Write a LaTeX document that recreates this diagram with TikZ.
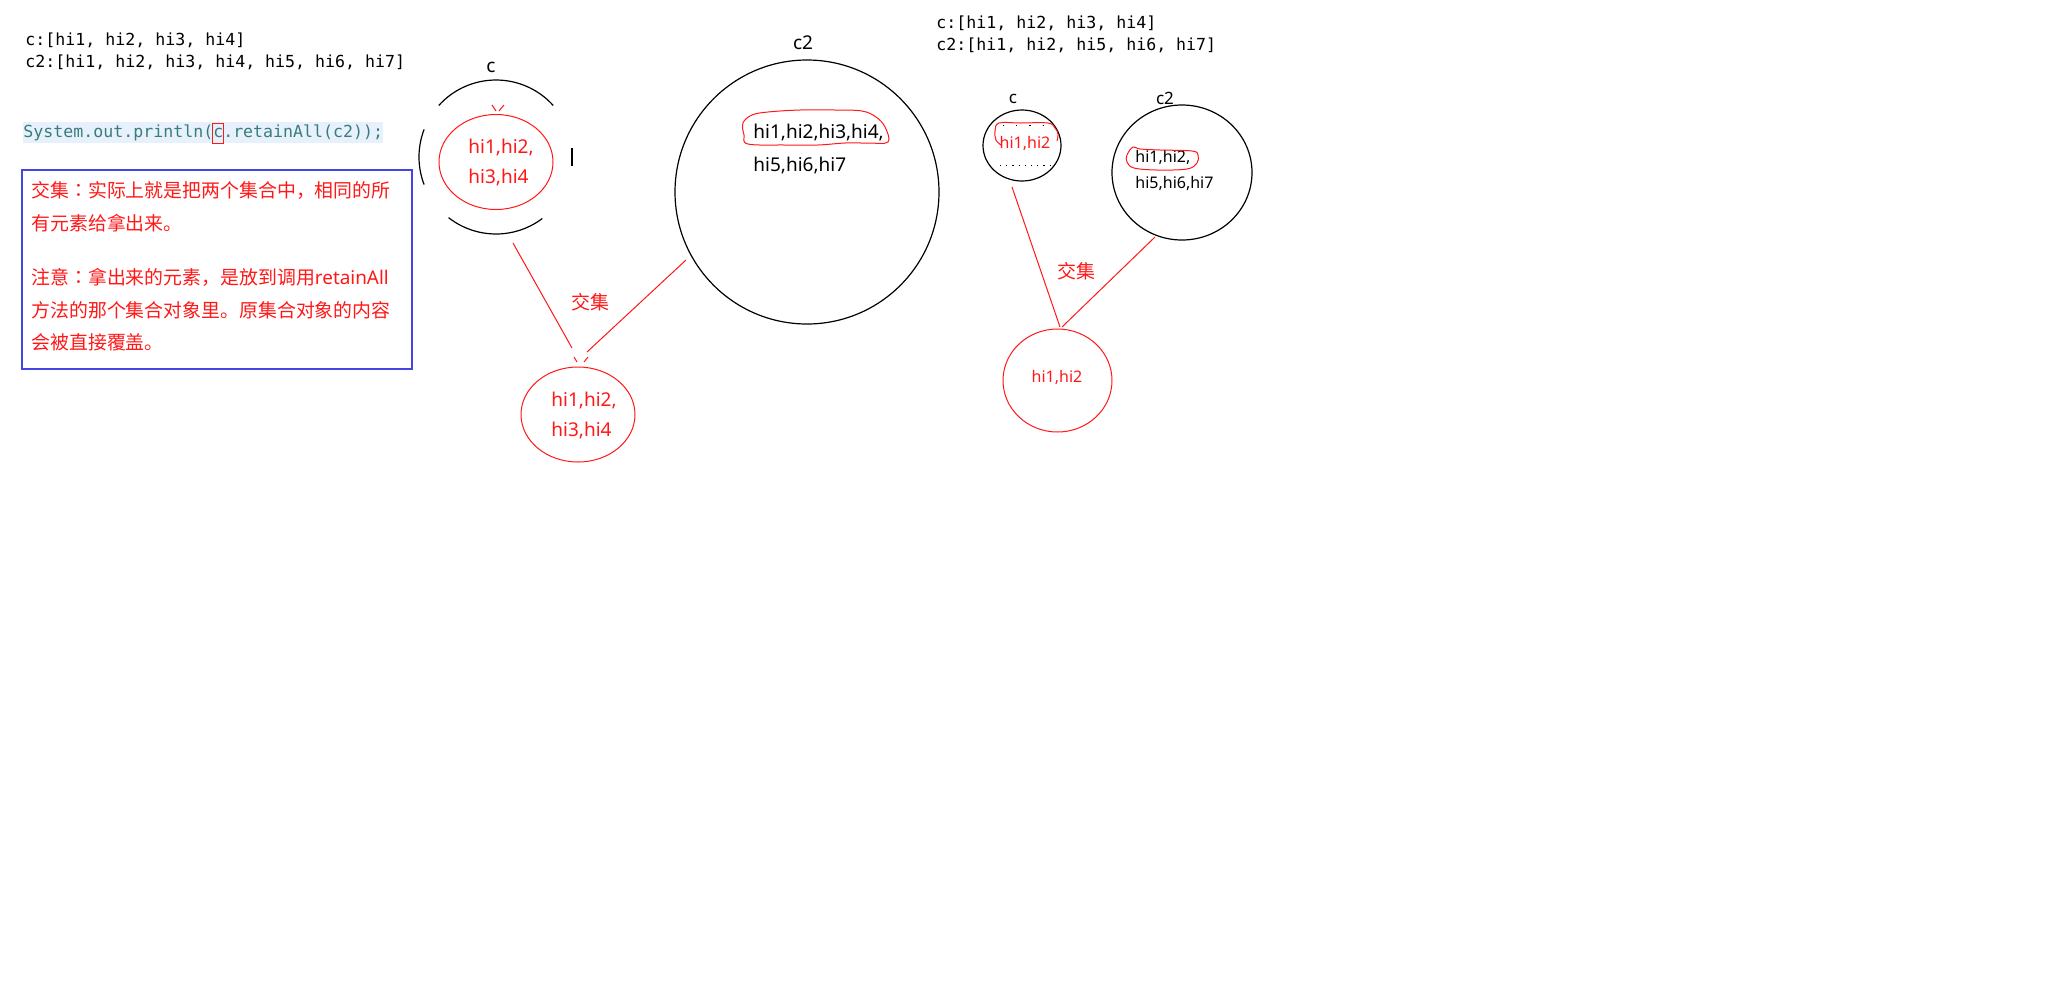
\documentclass[tikz,border=0pt]{standalone}
\usepackage{fontspec}
\setmainfont{Noto Sans}
\setmonofont{DejaVu Sans Mono}
\newfontfamily\cjk{Noto Sans CJK SC}
\newfontfamily\cjkjp{Noto Sans CJK JP}
\usetikzlibrary{shapes.geometric}
\definecolor{codeteal}{RGB}{58,124,124}
\definecolor{hlblue}{RGB}{230,241,252}
\definecolor{boxblue}{RGB}{70,70,222}
\definecolor{sred}{RGB}{255,24,24}
\newcommand{\zcolon}{{\cjkjp ：}}
\begin{document}
\begin{tikzpicture}[x=0.5pt,y=-0.5pt,
  mono/.style={anchor=west,inner sep=0,font=\ttfamily\fontsize{8.3}{10}\selectfont},
  note/.style={anchor=west,inner sep=0,text=sred,font=\cjk\fontsize{9.45}{11}\selectfont},
  lbl/.style={inner sep=0,font=\fontsize{9.5}{11}\selectfont},
  slbl/.style={inner sep=0,font=\fontsize{8}{10}\selectfont},
  blk/.style={draw=black,line width=0.6pt},
  redl/.style={draw=sred,line width=0.5pt},
  setel/.style={ellipse,inner sep=0,line width=0.5pt},
  jiao/.style={inner sep=0,text=sred,font=\cjk\fontsize{9.5}{11}\selectfont}]
\fill[white] (0,0) rectangle (2052,992);
\useasboundingbox (0,0) rectangle (2052,992);

% ---------- left text ----------
\node[mono] (t1) at (25,40) {c:[hi1, hi2, hi3, hi4]};
\node[mono] (t2) at (25,62) {c2:[hi1, hi2, hi3, hi4, hi5, hi6, hi7]};
\fill[hlblue] (23,122) rectangle (383,143);
\node[mono,text=codeteal] (code) at (23,133) {System.out.println(c.retainAll(c2));};
\draw[sred,line width=0.5pt] (212,123) rectangle (223,143);

\node[draw=boxblue,line width=0.65pt,minimum width=195pt,minimum height=99.5pt,inner sep=0] (box) at (217,269.5) {};
\node[note] (n1) at (31,190) {交集\zcolon 实际上就是把两个集合中，相同的所};
\node[note] (n2) at (31,223) {有元素给拿出来。};
\node[note] (n3) at (31,277) {注意\zcolon 拿出来的元素，是放到调用{\rmfamily retainAll}};
\node[note] (n4) at (31,310) {方法的那个集合对象里。原集合对象的内容};
\node[note] (n5) at (31,342) {会被直接覆盖。};

% ---------- first example: c ----------
\node[lbl,font=\bfseries\fontsize{9.5}{11}\selectfont] (clab) at (491,67) {c};
\draw[blk] plot[domain=42:138,samples=40] ({496+77*cos(\x)},{157-77*sin(\x)});
\draw[blk] plot[domain=159:201,samples=20] ({496+77*cos(\x)},{157-77*sin(\x)});
\draw[blk] plot[domain=232:307,samples=30] ({496+77*cos(\x)},{157-77*sin(\x)});
\draw[blk] (572,148) -- (572,166);
\node[setel,draw=sred,minimum width=57pt,minimum height=47.5pt] (cel) at (496,162) {};
\node[lbl,text=sred,anchor=west] (ct1) at (468,147) {hi1,hi2,};
\node[lbl,text=sred,anchor=west] (ct2) at (468,177) {hi3,hi4};
\draw[redl] (492,105) -- (496,111) (499,111) -- (504,105);

% c2 big
\node[lbl] (c2lab) at (803,43) {c2};
\node[circle,blk,minimum size=132pt,inner sep=0] (c2big) at (807,192) {};
\node[lbl,anchor=west] (c2t1) at (753,132) {hi1,hi2,hi3,hi4,};
\node[lbl,anchor=west] (c2t2) at (753,165) {hi5,hi6,hi7};
\draw[redl] plot[smooth cycle,tension=0.6] coordinates {(743,123) (752,115) (768,112) (800,110) (835,110) (862,111) (876,117) (885,127) (888,142) (868,143) (845,143) (818,145) (785,145) (748,144) (744,135)};

% result 1
\node[setel,draw=sred,minimum width=57pt,minimum height=47.5pt] (res1) at (578,414.5) {};
\node[lbl,text=sred,anchor=west] (r1t1) at (551,400) {hi1,hi2,};
\node[lbl,text=sred,anchor=west] (r1t2) at (551,430) {hi3,hi4};
\coordinate (a1) at (513,243);
\coordinate (a2) at (572,348);
\coordinate (b1) at (686,260);
\coordinate (b2) at (587,352);
\draw[redl] (a1) -- (a2);
\draw[redl] (b1) -- (b2);
\draw[redl] (574,357) -- (577,362) (588,357) -- (584,362);
\node[jiao] (j1) at (590,302) {交集};

% ---------- second example ----------
\node[mono] (t3) at (936,23) {c:[hi1, hi2, hi3, hi4]};
\node[mono] (t4) at (936,45) {c2:[hi1, hi2, hi5, hi6, hi7]};

\node[lbl,font=\bfseries\fontsize{8.5}{10}\selectfont] (sclab) at (1013,99) {c};
\node[setel,blk,minimum width=39pt,minimum height=35.5pt] (sc) at (1022,145.5) {};
\node[slbl,text=sred] (sct) at (1025,143) {hi1,hi2};
\draw[redl] plot[smooth,tension=0.6] coordinates {(1001,145) (996,140) (995,131) (999,123) (1020,123) (1048,123) (1055,128) (1058,134) (1057,141)};
\draw[black,line width=0.5pt,dash pattern=on 0.6pt off 6pt] (1003,125) -- (1048,125);
\draw[black,line width=0.5pt,dash pattern=on 0.6pt off 2.5pt] (1000,165) -- (1050,165);

\node[lbl,font=\fontsize{8.5}{10}\selectfont] (sc2lab) at (1165,98) {c2};
\node[setel,blk,minimum width=70pt,minimum height=67.5pt] (sc2) at (1182,172.5) {};
\node[slbl,anchor=west] (sc2t1) at (1135,157) {hi1,hi2,};
\node[slbl,anchor=west] (sc2t2) at (1135,183) {hi5,hi6,hi7};
\draw[redl] plot[smooth cycle,tension=0.6] coordinates {(1133,147) (1127,155) (1127,162) (1134,168) (1157,170) (1187,169) (1197,163) (1198,155) (1192,151) (1160,150) (1140,149)};

\node[setel,draw=sred,minimum width=54.5pt,minimum height=51.5pt] (res2) at (1057.5,380.5) {};
\node[slbl,text=sred] (r2t) at (1057,377) {hi1,hi2};
\coordinate (d1) at (1012,187);
\coordinate (d2) at (1060,327);
\coordinate (e1) at (1155,237);
\coordinate (e2) at (1062,327);
\draw[redl] (d1) -- (d2);
\draw[redl] (e1) -- (e2);
\node[jiao] (j2) at (1076,271) {交集};
\end{tikzpicture}
\end{document}
